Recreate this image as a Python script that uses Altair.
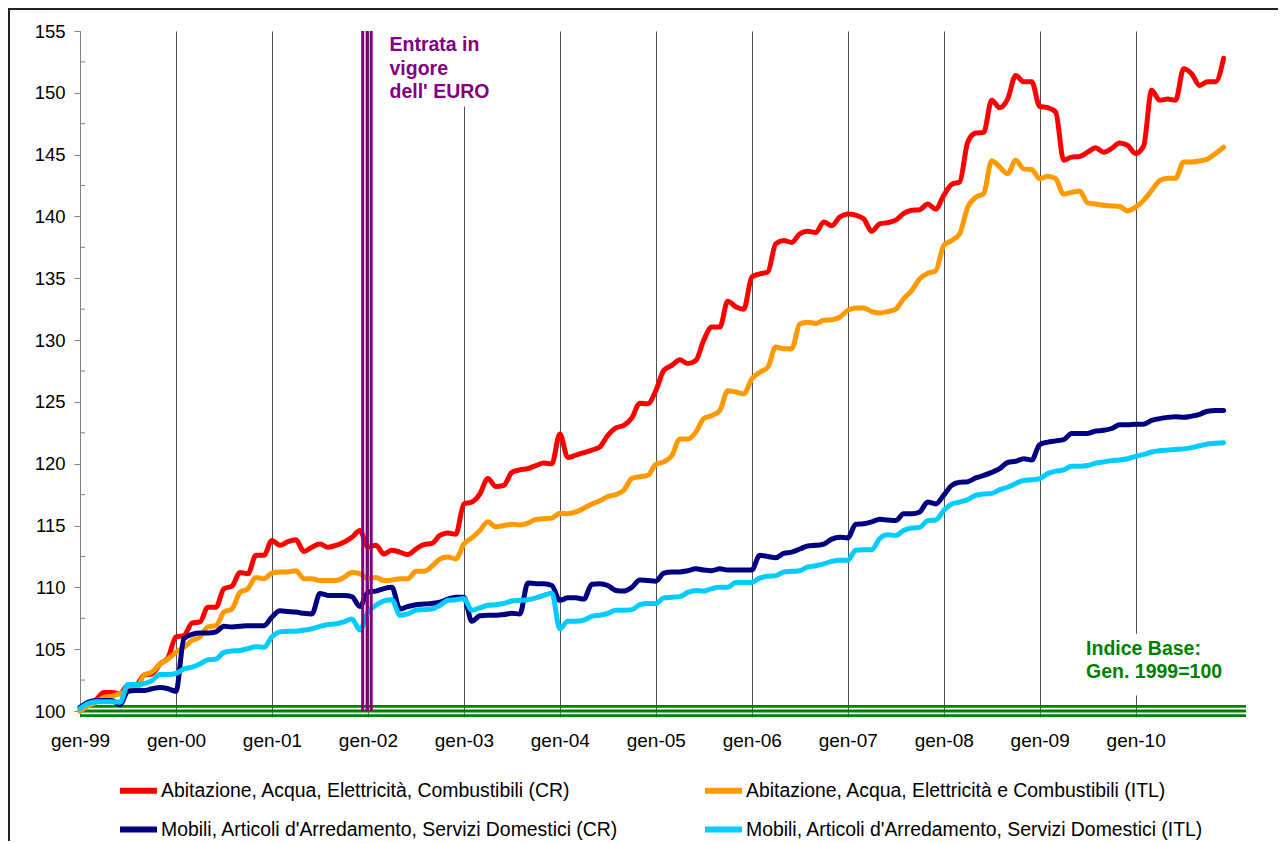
import altair as alt
import pandas as pd

SERIES = [
    "Abitazione, Acqua, Elettricità, Combustibili (CR)",
    "Abitazione, Acqua, Elettricità e Combustibili (ITL)",
    "Mobili, Articoli d'Arredamento, Servizi Domestici (CR)",
    "Mobili, Articoli d'Arredamento, Servizi Domestici (ITL)",
]
COLORS = ["#FF0000", "#FF9900", "#000080", "#00CCFF"]

YEAR_LABELS = ["gen-99", "gen-00", "gen-01", "gen-02", "gen-03", "gen-04",
               "gen-05", "gen-06", "gen-07", "gen-08", "gen-09", "gen-10"]
YEAR_TICKS = [0, 12, 24, 36, 48, 60, 72, 84, 96, 108, 120, 132]
Y_TICKS = [100, 105, 110, 115, 120, 125, 130, 135, 140, 145, 150, 155]
Y_MINOR = [102.5, 107.5, 112.5, 117.5, 122.5, 127.5, 132.5, 137.5, 142.5, 147.5, 152.5]

# monthly index values, gen-99 .. dic-10
red = [100.0, 100.5, 100.9, 101.5, 101.5, 101.4, 102.1, 102.1, 102.9, 103.0, 103.8, 104.3,
       106.0, 106.1, 107.1, 107.2, 108.4, 108.4, 109.9, 110.1, 111.2, 111.1, 112.6, 112.6,
       113.8, 113.4, 113.7, 113.85, 112.9, 113.25, 113.5, 113.25, 113.4, 113.65, 114.05, 114.6,
       113.25, 113.4, 112.7, 113.0, 112.85, 112.65, 113.1, 113.45, 113.55, 114.2, 114.4, 114.3,
       116.75, 116.9, 117.55, 118.8, 118.15, 118.25, 119.3, 119.5, 119.6, 119.85, 120.05, 120.0,
       122.4, 120.5, 120.7, 120.9, 121.1, 121.35, 122.3, 122.9, 123.1, 123.7, 124.9, 124.85,
       125.9, 127.55, 127.95, 128.4, 128.1, 128.35, 130.0, 131.05, 131.05, 133.15, 132.7, 132.5,
       135.1, 135.35, 135.5, 137.8, 138.05, 137.9, 138.6, 138.8, 138.7, 139.55, 139.25, 139.95,
       140.2, 140.1, 139.8, 138.8, 139.4, 139.5, 139.7, 140.25, 140.5, 140.55, 141.0, 140.6,
       141.7, 142.6, 142.8, 146.0, 146.75, 146.8, 149.4, 148.8, 149.5, 151.4, 150.9, 150.9,
       148.9, 148.8, 148.45, 144.55, 144.8, 144.85, 145.2, 145.55, 145.2, 145.5, 145.95, 145.75,
       145.1, 145.7, 150.2, 149.4, 149.5, 149.4, 151.95, 151.55, 150.6, 150.9, 150.9, 152.8]

orange = [100.0, 100.4, 100.7, 101.1, 101.2, 101.4, 101.65, 101.7, 102.9, 103.15, 103.8, 104.2,
          104.75, 105.15, 105.7, 106.0, 106.8, 106.9, 108.0, 108.25, 109.6, 109.9, 110.8, 110.7,
          111.15, 111.25, 111.25, 111.35, 110.7, 110.7, 110.55, 110.55, 110.55, 110.8, 111.2, 111.1,
          110.7, 110.8, 110.55, 110.6, 110.7, 110.7, 111.3, 111.3, 111.7, 112.3, 112.45, 112.3,
          113.5, 114.0, 114.6, 115.3, 114.9, 115.0, 115.1, 115.05, 115.2, 115.5, 115.55, 115.6,
          116.0, 115.95, 116.1, 116.4, 116.75, 117.0, 117.35, 117.5, 117.85, 118.8, 118.95, 119.05,
          119.95, 120.15, 120.65, 122.0, 122.0, 122.55, 123.65, 123.9, 124.3, 125.9, 125.8, 125.65,
          126.85, 127.4, 127.8, 129.45, 129.3, 129.3, 131.3, 131.45, 131.35, 131.6, 131.65, 131.85,
          132.4, 132.6, 132.6, 132.3, 132.2, 132.3, 132.5, 133.35, 134.0, 134.95, 135.4, 135.6,
          137.65, 138.05, 138.6, 140.75, 141.55, 141.85, 144.5, 144.0, 143.45, 144.55, 143.85, 143.8,
          143.05, 143.25, 143.05, 141.8, 141.95, 142.05, 141.1, 141.0, 140.9, 140.85, 140.8, 140.45,
          140.75, 141.3, 142.1, 142.9, 143.1, 143.1, 144.4, 144.4, 144.5, 144.65, 145.1, 145.6]

navy = [100.3, 100.7, 100.85, 100.85, 100.85, 100.5, 101.6, 101.65, 101.65, 101.8, 101.9, 101.8,
        101.6, 105.85, 106.2, 106.3, 106.3, 106.4, 106.85, 106.8, 106.85, 106.9, 106.9, 106.9,
        107.6, 108.1, 108.05, 108.0, 107.9, 107.85, 109.5, 109.35, 109.35, 109.35, 109.25, 108.45,
        109.6, 109.7, 109.9, 110.0, 108.25, 108.45, 108.6, 108.65, 108.7, 108.8, 109.05, 109.2,
        109.2, 107.25, 107.7, 107.75, 107.75, 107.8, 107.9, 107.85, 110.35, 110.3, 110.3, 110.15,
        108.95, 109.15, 109.15, 109.05, 110.25, 110.3, 110.15, 109.75, 109.7, 110.0, 110.6, 110.55,
        110.5, 111.15, 111.25, 111.25, 111.35, 111.5, 111.4, 111.35, 111.5, 111.4, 111.4, 111.4,
        111.4, 112.6, 112.5, 112.4, 112.75, 112.85, 113.1, 113.35, 113.4, 113.5, 113.9, 114.05,
        114.0, 115.1, 115.15, 115.3, 115.5, 115.45, 115.4, 115.95, 115.95, 116.1, 116.9, 116.75,
        117.45, 118.25, 118.5, 118.55, 118.85, 119.05, 119.3, 119.6, 120.1, 120.2, 120.4, 120.3,
        121.55, 121.75, 121.85, 121.95, 122.45, 122.45, 122.45, 122.65, 122.7, 122.85, 123.15, 123.15,
        123.2, 123.2, 123.5, 123.65, 123.75, 123.8, 123.75, 123.85, 124.0, 124.25, 124.3, 124.3]

cyan = [100.2, 100.6, 100.75, 100.75, 100.75, 100.7, 102.15, 102.15, 102.2, 102.45, 102.95, 102.95,
        103.05, 103.4, 103.55, 103.8, 104.15, 104.2, 104.75, 104.85, 104.9, 105.05, 105.2, 105.15,
        106.0, 106.4, 106.45, 106.45, 106.55, 106.65, 106.85, 107.0, 107.05, 107.2, 107.45, 106.55,
        108.0, 108.55, 108.9, 109.0, 107.75, 107.85, 108.15, 108.2, 108.25, 108.55, 108.95, 109.0,
        109.1, 108.15, 108.35, 108.55, 108.6, 108.7, 108.9, 108.95, 109.0, 109.15, 109.35, 109.55,
        106.65, 107.25, 107.25, 107.35, 107.65, 107.75, 107.9, 108.15, 108.15, 108.2, 108.6, 108.7,
        108.7, 109.15, 109.2, 109.25, 109.6, 109.75, 109.7, 109.9, 110.0, 110.0, 110.4, 110.4,
        110.4, 110.75, 110.9, 110.95, 111.25, 111.3, 111.35, 111.65, 111.75, 111.9, 112.1, 112.2,
        112.2, 113.0, 113.05, 113.05, 113.95, 114.25, 114.2, 114.6, 114.8, 114.85, 115.4, 115.45,
        116.2, 116.75, 116.9, 117.1, 117.45, 117.55, 117.6, 117.9, 118.1, 118.4, 118.65, 118.7,
        118.8, 119.2, 119.4, 119.5, 119.8, 119.8, 119.85, 120.05, 120.15, 120.25, 120.3, 120.4,
        120.6, 120.75, 120.95, 121.05, 121.1, 121.15, 121.2, 121.3, 121.45, 121.6, 121.65, 121.7]

EURO_MONTH = 35.9
EURO_TEXT = "Entrata in\nvigore\ndell' EURO"
BASE_TEXT = "Indice Base:\nGen. 1999=100"

rows = []
for name, vals in zip(SERIES, [red, orange, navy, cyan]):
    assert len(vals) == 144
    for m, v in enumerate(vals):
        rows.append({"serie": name, "mese": m, "valore": v})
df = pd.DataFrame(rows)

X_SCALE = alt.Scale(domain=[0, 145.8], nice=False, zero=False)
Y_SCALE = alt.Scale(domain=[100, 155], nice=False, zero=False)

label_expr = "[" + ",".join("'" + s + "'" for s in YEAR_LABELS) + "][floor(datum.value / 12)]"

X_AXIS = alt.Axis(
    values=YEAR_TICKS, labelExpr=label_expr, title=None, grid=True,
    gridColor="#505050", gridWidth=1, tickSize=6, tickColor="#808080",
    domainColor="#808080", labelFont="Liberation Sans", labelFontSize=19,
    labelColor="#000000", labelPadding=14, labelFlush=False, labelOverlap=False)
Y_AXIS = alt.Axis(
    values=Y_TICKS, title=None, grid=False, tickSize=6, tickColor="#808080",
    domainColor="#808080", labelFont="Liberation Sans", labelFontSize=18.5,
    labelColor="#000000", labelPadding=9)

lines = alt.Chart(df).mark_line(strokeWidth=5, interpolate="monotone",
                                strokeCap="round", strokeJoin="round").encode(
    x=alt.X("mese:Q", scale=X_SCALE, axis=X_AXIS),
    y=alt.Y("valore:Q", scale=Y_SCALE, axis=Y_AXIS),
    color=alt.Color("serie:N", sort=SERIES, scale=alt.Scale(domain=SERIES, range=COLORS),
                    legend=alt.Legend(title=None, orient="none", legendX=37, legendY=738,
                                      direction="horizontal",
                                      columns=2, columnPadding=74, rowPadding=5,
                                      symbolType="stroke", symbolStrokeWidth=6,
                                      symbolSize=1369, labelFont="Liberation Sans",
                                      labelFontSize=19.4, labelColor="#000000",
                                      labelLimit=700, labelOffset=1, padding=0)),
    detail="serie:N",
)

frame = alt.Chart(pd.DataFrame({"k": [0]})).mark_rect(
    fillOpacity=0, stroke="#222222", strokeWidth=2).encode(
    x=alt.value(-71), x2=alt.value(1400), y=alt.value(-22), y2=alt.value(1000))

boxes_df = pd.DataFrame({"x0": [38.3, 125.4], "x1": [51.0, 143.5],
                         "y0": [148.9, 101.25], "y1": [155.0, 106.25]})
boxes = alt.Chart(boxes_df).mark_rect(color="white").encode(
    x=alt.X("x0:Q", scale=X_SCALE, axis=X_AXIS), x2="x1:Q",
    y=alt.Y("y0:Q", scale=Y_SCALE, axis=Y_AXIS), y2="y1:Q")

base_df = pd.DataFrame({"valore": [100.0]})
green = [alt.Chart(base_df).mark_rule(color="#008000", strokeWidth=2.8, yOffset=off).encode(
    y=alt.Y("valore:Q", scale=Y_SCALE, axis=Y_AXIS)) for off in (-4.7, 0, 4.7)]

minor_df = pd.DataFrame({"valore": Y_MINOR})
minor = alt.Chart(minor_df).mark_rule(color="#808080", strokeWidth=1).encode(
    y=alt.Y("valore:Q", scale=Y_SCALE, axis=Y_AXIS), x=alt.value(0), x2=alt.value(5))

euro_df = pd.DataFrame({"mese": [EURO_MONTH]})
purple = [alt.Chart(euro_df).mark_rule(color="#800080", strokeWidth=3, xOffset=off).encode(
    x=alt.X("mese:Q", scale=X_SCALE, axis=X_AXIS)) for off in (-4.4, 0, 4.1)]

notes_df = pd.DataFrame({"mese": [38.7, 125.8], "valore": [153.84, 105.03],
                         "testo": [EURO_TEXT, BASE_TEXT], "colore": ["#800080", "#008000"]})
notes = alt.Chart(notes_df).mark_text(
    align="left", baseline="middle", lineBreak="\n", lineHeight=23.3,
    font="Liberation Sans", fontWeight="bold", fontSize=19.5).encode(
    x=alt.X("mese:Q", scale=X_SCALE, axis=X_AXIS),
    y=alt.Y("valore:Q", scale=Y_SCALE, axis=Y_AXIS),
    text="testo:N", color=alt.Color("colore:N", scale=None))

chart = alt.layer(frame, boxes, *green, lines, minor, *purple, notes).properties(
    width=1166, height=680,
    autosize=alt.AutoSizeParams(type="none"),
    padding={"left": 72, "top": 23, "right": 32, "bottom": 130},
).configure(background="white").configure_view(stroke=None)

chart.save("out.html", embed_options={"renderer": "svg", "actions": False})
